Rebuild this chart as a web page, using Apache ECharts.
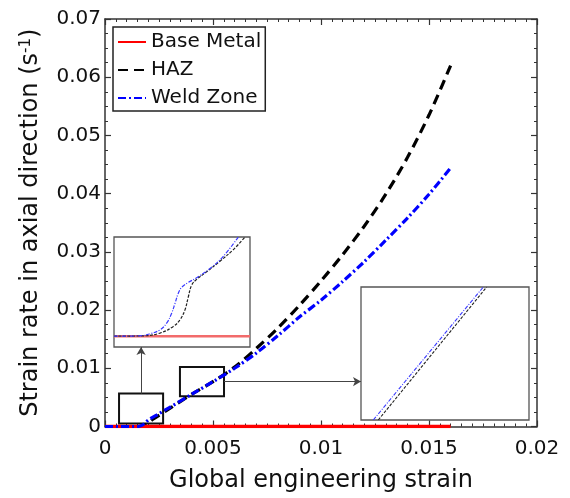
<!DOCTYPE html>
<html><head><meta charset="utf-8">
<script src="https://cdn.jsdelivr.net/npm/echarts@6/dist/echarts.min.js"></script>
<style>html,body{margin:0;padding:0;background:#fff}#c{width:570px;height:498px}</style>
</head><body><div id="c"></div>
<script>
// ---- data ----
const seriesNames = ['Base Metal', 'HAZ', 'Weld Zone'];
const xTickLabels = ['0', '0.005', '0.01', '0.015', '0.02'];
const yTickLabels = ['0', '0.01', '0.02', '0.03', '0.04', '0.05', '0.06', '0.07'];

const baseStrain = [0, 0.016];
const baseRate = [0, 0];

const hazStrain = [0, 0.0016, 0.0018, 0.002, 0.0022, 0.003, 0.004, 0.005, 0.006, 0.007, 0.008, 0.009, 0.010, 0.011, 0.012, 0.013, 0.014, 0.015, 0.016];
const hazRate = [0, 0, 0.0001, 0.0006, 0.0012, 0.0031, 0.0055, 0.0077, 0.0102, 0.0134, 0.0169, 0.0208, 0.0250, 0.0295, 0.0344, 0.0399, 0.0462, 0.0535, 0.0620];

const weldStrain = [0, 0.0015, 0.0017, 0.0019, 0.002, 0.0025, 0.003, 0.004, 0.005, 0.006, 0.007, 0.008, 0.009, 0.010, 0.011, 0.012, 0.013, 0.014, 0.015, 0.016];
const weldRate = [0, 0, 0.0002, 0.0007, 0.0011, 0.0022, 0.0033, 0.0055, 0.0077, 0.0100, 0.0126, 0.0156, 0.0188, 0.0217, 0.0249, 0.0283, 0.0320, 0.0358, 0.0399, 0.0444];

// inset A (upper-left zoom)
const insetABaseStrain = [0.0006, 0.0027];
const insetABaseRate = [0, 0];
const insetAWeldStrain = [0.0006, 0.0010, 0.001156, 0.00131, 0.001413, 0.00149, 0.001542, 0.001593, 0.001645, 0.001748, 0.001876, 0.002082, 0.002288, 0.00252];
const insetAWeldRate = [0, 0.00002, 0.00013, 0.00035, 0.00072, 0.00127, 0.00182, 0.00238, 0.00271, 0.00298, 0.00324, 0.00375, 0.00443, 0.0055];
const insetAHazStrain = [0.0006, 0.001053, 0.00131, 0.001516, 0.001619, 0.001696, 0.001748, 0.001799, 0.001876, 0.002031, 0.002237, 0.002443, 0.002623];
const insetAHazRate = [0, 0.00002, 0.00017, 0.00054, 0.00091, 0.00146, 0.00219, 0.00283, 0.00315, 0.00357, 0.00416, 0.0048, 0.0055];

// inset B (right zoom)
const insetBWeldStrain = [0.003646, 0.004956];
const insetBWeldRate = [0.005, 0.0105];
const insetBHazStrain = [0.003706, 0.004996];
const insetBHazRate = [0.005, 0.0105];

// zoom boxes in main axes [x0, y0, x1, y1]
const zoomBoxA = [0.00065, 0.0005, 0.00269, 0.00566];
const zoomBoxB = [0.00347, 0.0052, 0.00551, 0.01023];

// ---- helpers / layout ----
const zip = (xs, ys) => xs.map((x, i) => [x, ys[i]]);
const FONT = 'DejaVu Sans';
const TXT = '#111';
const main = { left: 105, top: 19, width: 432, height: 407.5 };
const insA = { left: 114, top: 237, width: 136, height: 110 };
const insB = { left: 361, top: 287, width: 168, height: 133 };

function mainAxis(isX, pos, showLabel) {
  return {
    type: 'value', gridIndex: 0, position: pos,
    min: 0, max: isX ? 0.02 : 0.07, interval: isX ? 0.005 : 0.01,
    axisLine: { show: true, onZero: false, lineStyle: { color: '#333', width: 1.5 } },
    axisTick: { show: true, inside: true, length: 6, lineStyle: { color: '#333', width: 1.2 } },
    minorTick: { show: true, splitNumber: isX ? 10 : 4, length: 3, lineStyle: { color: '#333', width: 1 } },
    splitLine: { show: false },
    axisLabel: {
      show: showLabel, margin: isX ? 12 : 4, fontSize: 20, fontFamily: FONT, color: TXT,
      formatter: (v, i) => (isX ? xTickLabels : yTickLabels)[i]
    }
  };
}

const xAxes = [
  Object.assign(mainAxis(true, 'bottom', true), {
    name: 'Global engineering strain', nameLocation: 'middle', nameGap: 42,
    nameTextStyle: { fontSize: 24, fontFamily: FONT, color: TXT }
  }),
  mainAxis(true, 'top', false),
  { type: 'value', gridIndex: 1, min: 0.0006, max: 0.0027, show: false },
  { type: 'value', gridIndex: 2, min: 0.0035, max: 0.0055, show: false }
];
const yAxes = [
  Object.assign(mainAxis(false, 'left', true), {
    name: 'Strain rate in axial direction (s{sup|-1})', nameLocation: 'middle', nameGap: 62,
    nameTextStyle: {
      fontSize: 24, fontFamily: FONT, color: TXT,
      rich: { sup: { fontSize: 15, fontFamily: FONT, color: TXT, verticalAlign: 'top' } }
    }
  }),
  mainAxis(false, 'right', false),
  { type: 'value', gridIndex: 1, min: -0.0006, max: 0.0055, show: false },
  { type: 'value', gridIndex: 2, min: 0.005, max: 0.0105, show: false }
];

const boxArea = (b) => [{ coord: [b[0], b[1]] }, { coord: [b[2], b[3]] }];

const option = {
  animation: false,
  grid: [
    Object.assign({}, main),
    Object.assign({ show: true, borderColor: '#555', borderWidth: 1.3, backgroundColor: '#fff' }, insA),
    Object.assign({ show: true, borderColor: '#555', borderWidth: 1.3, backgroundColor: '#fff' }, insB)
  ],
  xAxis: xAxes,
  yAxis: yAxes,
  legend: {
    data: seriesNames, orient: 'vertical', left: 113, top: 27,
    itemWidth: 28, itemHeight: 12, itemGap: 8,
    padding: [5, 4, 3, 4],
    borderColor: '#222', borderWidth: 1.5, backgroundColor: '#fff',
    itemStyle: { opacity: 0 },
    textStyle: { fontSize: 20, fontFamily: FONT, color: TXT },
    selectedMode: false
  },
  series: [
    { id: 'haz', name: seriesNames[1], type: 'line', xAxisIndex: 0, yAxisIndex: 0, data: zip(hazStrain, hazRate),
      symbol: 'none', smooth: 0.3, lineStyle: { color: '#000', width: 3.2, type: [10, 6] }, itemStyle: { color: '#000' } },
    { id: 'base', name: seriesNames[0], type: 'line', xAxisIndex: 0, yAxisIndex: 0, data: zip(baseStrain, baseRate),
      symbol: 'none', lineStyle: { color: '#ff0000', width: 3.5 }, itemStyle: { color: '#ff0000' } },
    { id: 'weld', name: seriesNames[2], type: 'line', xAxisIndex: 0, yAxisIndex: 0, data: zip(weldStrain, weldRate),
      symbol: 'none', smooth: 0.3, lineStyle: { color: '#0000ff', width: 3.2, type: [8, 3, 2, 3] }, itemStyle: { color: '#0000ff' } },
    { id: 'annot', name: 'annot', type: 'line', xAxisIndex: 0, yAxisIndex: 0, data: [], symbol: 'none',
      markArea: { silent: true, itemStyle: { color: 'rgba(0,0,0,0)', borderColor: '#111', borderWidth: 2 },
        data: [boxArea(zoomBoxA), boxArea(zoomBoxB)] } },
    // inset A
    { name: 'insA-base', type: 'line', xAxisIndex: 2, yAxisIndex: 2, data: zip(insetABaseStrain, insetABaseRate),
      symbol: 'none', lineStyle: { color: '#f26b6b', width: 2.5 } },
    { name: 'insA-haz', type: 'line', xAxisIndex: 2, yAxisIndex: 2, data: zip(insetAHazStrain, insetAHazRate),
      symbol: 'none', smooth: 0.4, lineStyle: { color: '#222', width: 1.2, type: [3, 1.5] } },
    { name: 'insA-weld', type: 'line', xAxisIndex: 2, yAxisIndex: 2, data: zip(insetAWeldStrain, insetAWeldRate),
      symbol: 'none', smooth: 0.4, lineStyle: { color: '#3a3aff', width: 1.2, type: [4, 1.5, 1, 1.5] } },
    // inset B
    { name: 'insB-haz', type: 'line', xAxisIndex: 3, yAxisIndex: 3, data: zip(insetBHazStrain, insetBHazRate),
      symbol: 'none', lineStyle: { color: '#222', width: 1.1, type: [3, 1.5] } },
    { name: 'insB-weld', type: 'line', xAxisIndex: 3, yAxisIndex: 3, data: zip(insetBWeldStrain, insetBWeldRate),
      symbol: 'none', lineStyle: { color: '#3a3aff', width: 1.1, type: [4, 1.5, 1, 1.5] } }
  ]
};

const chart = echarts.init(document.getElementById('c'), null, { renderer: 'canvas' });
chart.setOption(option);

// arrows from zoom boxes to insets
const aBottom = chart.convertFromPixel({ gridIndex: 0 }, [0, insA.top + insA.height]);
const bLeft = chart.convertFromPixel({ gridIndex: 0 }, [insB.left, 0]);
const aCx = (zoomBoxA[0] + zoomBoxA[2]) / 2;
const bCy = (zoomBoxB[1] + zoomBoxB[3]) / 2;
chart.setOption({
  series: [{ id: 'annot',
    markLine: { silent: true, symbol: ['none', 'arrow'], symbolSize: [7, 8],
      lineStyle: { color: '#444', width: 1, type: 'solid' }, label: { show: false },
      data: [
        [{ coord: [aCx, zoomBoxA[3]] }, { coord: [aCx, aBottom[1]] }],
        [{ coord: [zoomBoxB[2], bCy] }, { coord: [bLeft[0], bCy] }]
      ] } }]
});
</script>
</body></html>
